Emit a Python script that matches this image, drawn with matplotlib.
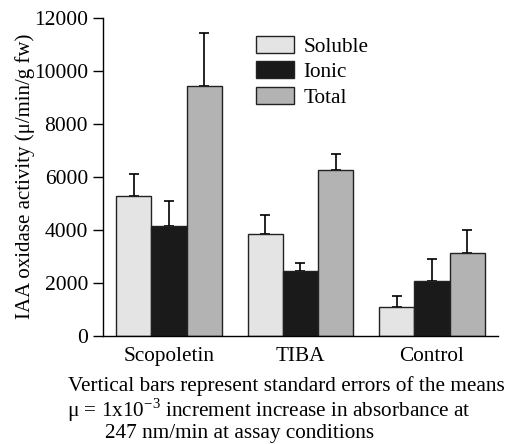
import numpy as np
import matplotlib
matplotlib.use('Agg')
import matplotlib.pyplot as plt
from matplotlib.patches import Patch

plt.rcParams['font.family'] = ['Liberation Serif', 'DejaVu Serif']
plt.rcParams['mathtext.fontset'] = 'custom'
plt.rcParams['mathtext.rm'] = 'Liberation Serif'

# Data
groups = ['Scopoletin', 'TIBA', 'Control']
series = ['Soluble', 'Ionic', 'Total']
soluble = [5260, 3830, 1070]
ionic = [4140, 2440, 2060]
total = [9420, 6250, 3120]
soluble_err = [850, 710, 440]
ionic_err = [940, 310, 820]
total_err = [2010, 600, 880]
yticks = [0, 2000, 4000, 6000, 8000, 10000, 12000]

colors = ['#e4e4e4', '#1a1a1a', '#b3b3b3']

fig = plt.figure(figsize=(5.15, 4.44), dpi=100)
ax = fig.add_axes([103.3 / 515, 1 - 335.7 / 444, 394.4 / 515, 318 / 444])

x = np.arange(len(groups))
w = 0.267
vals = [soluble, ionic, total]
errs = [soluble_err, ionic_err, total_err]
for i in range(3):
    ax.bar(x + (i - 1) * w, vals[i], w, color=colors[i], edgecolor='#222222',
           linewidth=1.0, zorder=2)
    ax.errorbar(x + (i - 1) * w, vals[i], yerr=[np.zeros(3), errs[i]],
                fmt='none', ecolor='black', elinewidth=1.2, capsize=3.5,
                capthick=1.2, zorder=1)

ax.set_xlim(-0.5, 2.5)
ax.set_ylim(0, 12000)
ax.set_yticks(yticks)
ax.set_xticks(x)
ax.set_xticklabels(groups, fontsize=15.3)
ax.tick_params(axis='y', labelsize=15.5, length=7, width=1.0, direction='out', pad=4)
ax.tick_params(axis='x', length=0, pad=8)
for s in ['top', 'right']:
    ax.spines[s].set_visible(False)
ax.spines['left'].set_linewidth(1.0)
ax.spines['bottom'].set_linewidth(1.0)

ax.set_ylabel('IAA oxidase activity (\u03bc/min/g fw)', fontsize=15)
ax.yaxis.set_label_coords(-0.172, 0.5)

handles = [Patch(facecolor=c, edgecolor='#222222', linewidth=1.0) for c in colors]
ax.legend(handles, series, loc='upper left', bbox_to_anchor=(0.365, 0.97),
          frameon=False, fontsize=15.3, handlelength=1.8, handleheight=0.85,
          handletextpad=0.45, labelspacing=0.22, borderaxespad=0)

fig.text(68 / 515, 1 - 386 / 444, 'Vertical bars represent standard errors of the means',
         fontsize=15.3, va='center', ha='left')
fig.text(67 / 515, 1 - 410 / 444,
         '\u03bc = 1x10$^{\\mathregular{-3}}$ increment increase in absorbance at',
         fontsize=15.3, va='center', ha='left')
fig.text(105 / 515, 1 - 433 / 444, '247 nm/min at assay conditions',
         fontsize=15.3, va='center', ha='left')

fig.savefig('out.png', dpi=100)
